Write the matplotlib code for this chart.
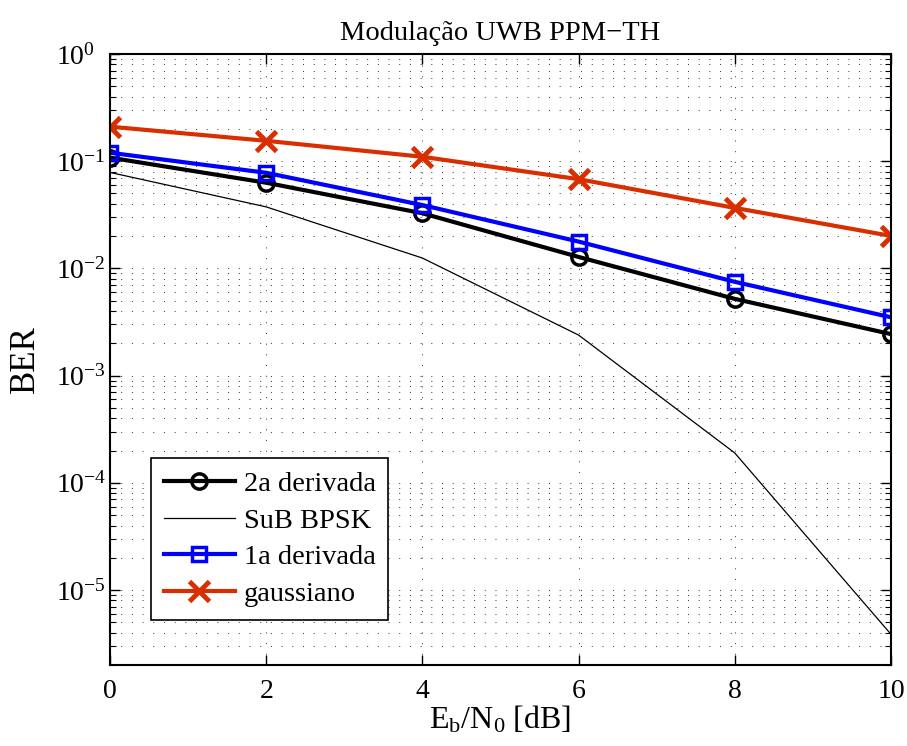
import matplotlib
matplotlib.use("Agg")
from matplotlib import pyplot as plt
from matplotlib.ticker import LogLocator, NullFormatter

plt.rcParams["font.family"] = ["Liberation Serif", "DejaVu Serif"]
plt.rcParams["mathtext.fontset"] = "custom"
plt.rcParams["mathtext.rm"] = "Liberation Serif"
plt.rcParams["mathtext.it"] = "Liberation Serif"
plt.rcParams["mathtext.default"] = "regular"

ebn0 = [0, 2, 4, 6, 8, 10]
ber_2a = [0.108, 0.063, 0.0327, 0.0128, 0.0052, 0.00244]
ber_sub = [0.0786, 0.0375, 0.0125, 0.00239, 1.9e-4, 3.87e-6]
ber_1a = [0.12, 0.078, 0.039, 0.0178, 0.0075, 0.0035]
ber_gauss = [0.21, 0.155, 0.11, 0.068, 0.0367, 0.0201]
yticks = [1e-5, 1e-4, 1e-3, 1e-2, 1e-1, 1]

red = "#d92e00"

fig = plt.figure(figsize=(9.07, 7.46), dpi=100)
ax = fig.add_axes([0.1213, 0.1086, 0.861, 0.819])

ax.semilogy(ebn0, ber_2a, "-o", color="k", lw=3, ms=11, mew=2.5, mfc="none", label="2a derivada")
ax.semilogy(ebn0, ber_sub, "-", color="k", lw=0.9, label="SuB BPSK")
ax.semilogy(ebn0, ber_1a, "-s", color="b", lw=3, ms=10, mew=2.5, mfc="none", label="1a derivada")
ax.semilogy(ebn0, ber_gauss, "-x", color=red, lw=3, ms=14, mew=3.5, label="gaussiano")

ax.set_xlim(0, 10)
ax.set_ylim(2e-6, 1)
ax.set_xticks(ebn0)
ax.set_yticks(yticks)
ax.yaxis.set_minor_locator(LogLocator(base=10, subs=range(2, 10), numticks=20))
ax.yaxis.set_minor_formatter(NullFormatter())

dots = (0, (1, 10))
ax.grid(True, which="major", linestyle=dots, color="#333333", lw=0.7)
ax.grid(True, which="minor", axis="y", linestyle=dots, color="#333333", lw=0.7)
ax.tick_params(which="both", direction="in", top=True, right=True, labelsize=20)
ax.tick_params(which="major", length=7, width=1)
ax.tick_params(which="minor", length=4, width=0.8)
ax.tick_params(axis="x", pad=10)
ax.tick_params(axis="y", pad=39)
for lab in ax.get_yticklabels():
    lab.set_horizontalalignment("left")
for s in ax.spines.values():
    s.set_linewidth(1.5)

ax.set_title("Modulação UWB PPM\u2212TH", fontsize=20.5, pad=10)
ax.set_xlabel(r"E$_b$/N$_0$ [dB]", fontsize=23, labelpad=0)
ax.set_ylabel("BER", fontsize=25, labelpad=10)

leg = ax.legend(loc="lower left", bbox_to_anchor=(0.0525, 0.0736), borderaxespad=0,
                fontsize=20.5, fancybox=False, edgecolor="k", framealpha=1,
                handlelength=2.5, handletextpad=0.3, borderpad=0.45, labelspacing=0.38)
leg.get_frame().set_linewidth(1.2)

fig.savefig("out.png", dpi=100)
